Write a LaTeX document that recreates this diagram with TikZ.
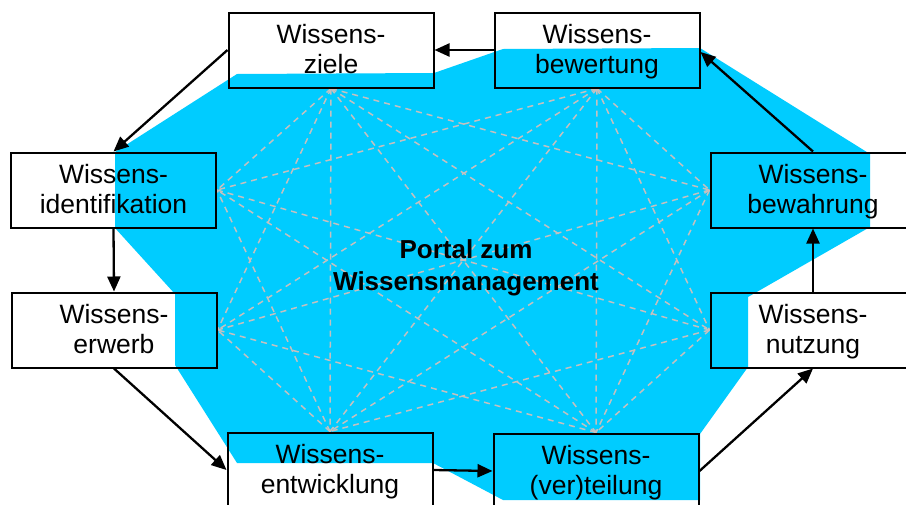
\documentclass[tikz,border=0pt]{standalone}
\usepackage{fontspec}
\setmainfont{Liberation Sans}
\usetikzlibrary{arrows.meta,backgrounds}
\definecolor{portalblue}{RGB}{0,204,255}
\definecolor{meshgray}{RGB}{196,192,192}
% two centred lines with fixed baselines, so every box places its text alike
\newcommand\twoline[2]{\begin{tabular}{@{}c@{}}\rule{0pt}{26pt}#1\\#2\end{tabular}}

\begin{document}
\begin{tikzpicture}[x=1pt,y=-1pt,
  stage/.style={draw=black,line width=2pt,minimum width=205pt,minimum height=75pt,
    inner sep=0pt,font=\fontsize{26.5}{29.5}\selectfont},
  flow/.style={line width=2.3pt,-{Triangle[length=15pt,width=13pt]}},
  mesh/.style={draw=meshgray,line width=1.5pt,dash pattern=on 6pt off 5pt},
]
\useasboundingbox (0,0) rectangle (906,504);

% the eight building blocks
\node[stage] (ziele)     at (331,50)    {\twoline{Wissens-}{ziele}};
\node[stage] (bewertung) at (597,50)    {\twoline{Wissens-}{bewertung}};
\node[stage] (ident)     at (113.5,190) {\twoline{Wissens-}{identifikation}};
\node[stage] (bewahrung) at (813,190)   {\twoline{Wissens-}{bewahrung}};
\node[stage] (erwerb)    at (114,330)   {\twoline{Wissens-}{erwerb}};
\node[stage] (nutzung)   at (813,330)   {\twoline{Wissens-}{nutzung}};
\node[stage] (entw)      at (330,470)   {\twoline{Wissens-}{entwicklung}};
\node[stage] (verteil)   at (596,471)   {\twoline{Wissens-}{(ver)teilung}};

% portal in the middle
\node[font=\bfseries\fontsize{26}{32}\selectfont] (portal) at (466,267.6)
  {\begin{tabular}{@{}c@{}}Portal zum\\Wissensmanagement\end{tabular}};

\begin{scope}[on background layer]
  \fill[white] (0,0) rectangle (906,504);
  % cyan portal area
  \fill[portalblue] (237,74) -- (434,73) -- (503,49) -- (700,48) -- (870,154)
    -- (870,227) -- (748,297) -- (748,367) -- (700,434) -- (700,500)
    -- (503,500) -- (433,463) -- (237,463) -- (175,365) -- (175,294)
    -- (115,228) -- (115,152) -- cycle;
  % dashed mesh between the blocks
  \foreach \a/\b in {ziele.south/bewahrung.west, ziele.south/nutzung.west,
      ziele.south/verteil.north, ziele.south/entw.north,
      ziele.south/erwerb.east, ziele.south/ident.east,
      bewertung.south/bewahrung.west, bewertung.south/nutzung.west,
      bewertung.south/verteil.north, bewertung.south/entw.north,
      bewertung.south/erwerb.east, bewertung.south/ident.east,
      bewahrung.west/verteil.north, bewahrung.west/entw.north,
      bewahrung.west/erwerb.east,
      nutzung.west/verteil.north, nutzung.west/entw.north,
      nutzung.west/ident.east,
      verteil.north/erwerb.east, verteil.north/ident.east,
      entw.north/erwerb.east, entw.north/ident.east}
    \draw[mesh] (\a) -- (\b);
\end{scope}

% knowledge cycle
\draw[flow] (bewertung.west) -- (ziele.east);
\draw[flow] (ziele.west) -- (ident.north);
\draw[flow] (ident.south) -- (erwerb.north);
\draw[flow] (erwerb.south) -- (entw.west);
\draw[flow] (entw.east) -- (verteil.west);
\draw[flow] (verteil.east) -- (nutzung.south);
\draw[flow] (nutzung.north) -- (bewahrung.south);
\draw[flow] (bewahrung.north) -- ([yshift=-2pt]bewertung.east);
\end{tikzpicture}
\end{document}
